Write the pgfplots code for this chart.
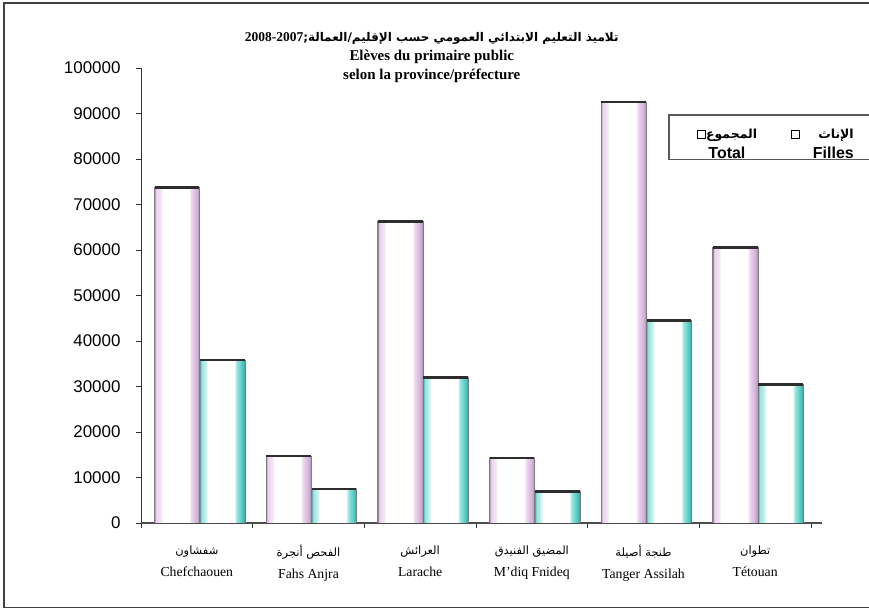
\documentclass[border=0pt]{standalone}
\usepackage{pgfplots}
\pgfplotsset{compat=1.18}
\usepackage{fontspec}
\setmainfont{Liberation Serif}
\newfontfamily\arial{Liberation Sans}
\newfontfamily\arabicfont[Script=Arabic]{DejaVu Sans}
\TeXXeTstate=1
\definecolor{totl}{RGB}{236,212,238}
\definecolor{totd}{RGB}{208,178,216}
\definecolor{fill}{RGB}{150,228,222}
\definecolor{filld}{RGB}{80,200,195}
\definecolor{edge}{RGB}{125,125,125}
\definecolor{cap}{RGB}{45,45,45}
\pgfdeclarehorizontalshading{totsh}{100bp}{color(0bp)=(edge); color(25bp)=(edge); color(25.8bp)=(totd); color(27bp)=(totl); color(32bp)=(totl!60); color(34bp)=(white); color(63bp)=(white); color(66bp)=(totl); color(72bp)=(totd); color(74.2bp)=(totd!85!black); color(75bp)=(edge); color(100bp)=(edge)}
\pgfdeclarehorizontalshading{filsh}{100bp}{color(0bp)=(edge); color(25bp)=(edge); color(25.8bp)=(filld); color(27bp)=(fill); color(32bp)=(fill!50); color(34bp)=(white); color(63bp)=(white); color(66bp)=(fill); color(72bp)=(filld); color(74.2bp)=(filld!85!black); color(75bp)=(edge); color(100bp)=(edge)}
\newcommand\sqbox{{\fboxsep=0pt\fboxrule=0.9bp\fbox{\rule{0pt}{7.5bp}\rule{7.5bp}{0pt}}}}
\pgfplotsset{
  totbar/.style={bar shift=-0.177, draw=edge, line width=0.6bp, shade, shading=totsh},
  filbar/.style={bar shift=0.228, draw=edge, line width=0.6bp, shade, shading=filsh},
}
\begin{document}
\begin{tikzpicture}
\useasboundingbox (0,0) rectangle (869bp,612bp);
\fill[white] (0,0) rectangle (869bp,612bp);
\draw[line width=1.3bp, black!75] (4bp,4.5bp) rectangle (900bp,609bp);
\begin{axis}[
  scale only axis, width=670bp, height=455bp,
  at={(141bp,89bp)}, anchor=south west,
  ymin=0, ymax=100000, xmin=-0.5, xmax=5.5,
  ybar=0pt, bar width=0.405,
  axis x line*=bottom, axis y line*=left,
  x axis line style={line width=1.6bp, black!70, shorten >=-11bp},
  y axis line style={line width=0.9bp, black!80},
  tick align=outside, major tick length=5bp,
  tick style={black!80, line width=0.8bp},
  ytick={0,10000,...,100000},
  scaled y ticks=false,
  yticklabel={\pgfmathprintnumber[fixed,1000 sep={},assume math mode=true]{\tick}},
  yticklabel style={font=\arial\fontsize{17}{18}\selectfont, xshift=-12bp},
  xtick={-0.5,0.5,...,5.5},
  xticklabels={,,,,,,,},
  extra x ticks={0,1,2,3,4,5},
  extra x tick style={major tick length=0pt},
  extra x tick labels={
    {{\arabicfont\fontsize{11.5}{13}\selectfont\beginR شفشاون\endR}\\Chefchaouen},
    {{\arabicfont\fontsize{11.5}{13}\selectfont\beginR الفحص أنجرة\endR}\\Fahs Anjra},
    {{\arabicfont\fontsize{11.5}{13}\selectfont\beginR العرائش\endR}\\Larache},
    {{\arabicfont\fontsize{11.5}{13}\selectfont\beginR المضيق الفنيدق\endR}\\M'diq Fnideq},
    {{\arabicfont\fontsize{11.5}{13}\selectfont\beginR طنجة أصيلة\endR}\\Tanger Assilah},
    {{\arabicfont\fontsize{11.5}{13}\selectfont\beginR تطوان\endR}\\Tétouan}},
  xticklabel style={align=center, font=\fontsize{13.8}{22}\selectfont, yshift=-19bp},
  title={{\arabicfont\bfseries\fontsize{12}{15}\selectfont\beginR تلاميذ التعليم الابتدائي العمومي حسب الإقليم/العمالة;\beginL{\rmfamily\fontsize{13.5}{15}\selectfont 2008-2007}\endL\endR}\\[1bp]Elèves du primaire public\\selon la province/préfecture},
  title style={at={(0.434,1.073)}, anchor=north, align=center, font=\bfseries\fontsize{15}{18.5}\selectfont},
  legend columns=2,
  legend image code/.code={},
  legend style={at={(0.7866,0.8989)}, anchor=north west, draw=black!65, line width=1.6bp,
    inner xsep=26bp, inner ysep=7.5bp, font=\fontsize{16}{20}\selectfont,
    /tikz/every even column/.append style={column sep=30bp},
    cells={align=center}},
  error bars/y dir=plus, error bars/y fixed=0,
  error bars/error mark=|,
  error bars/error mark options={line width=2.6bp, mark size=22.3bp, draw=cap},
]
\addplot[totbar] coordinates {(0,73800)};
\addlegendentry{\begin{tabular}{@{}c@{}}\sqbox{\arabicfont\bfseries\fontsize{12.5}{14}\selectfont\beginR المجموع\endR}\\{\arial\bfseries Total}\end{tabular}}
\addplot[filbar] coordinates {(0,35800)};
\addlegendentry{\begin{tabular}{@{}r@{}}\sqbox\hspace{18bp}{\arabicfont\bfseries\fontsize{12.5}{14}\selectfont\beginR الإناث\endR}\hspace{8bp}\\{\arial\bfseries Filles}\end{tabular}}
\addplot[totbar, forget plot] coordinates {(1,14700)};
\addplot[filbar, forget plot] coordinates {(1,7500)};
\addplot[totbar, forget plot] coordinates {(2,66200)};
\addplot[filbar, forget plot] coordinates {(2,32000)};
\addplot[totbar, forget plot] coordinates {(3,14300)};
\addplot[filbar, forget plot] coordinates {(3,6900)};
\addplot[totbar, forget plot] coordinates {(4,92500)};
\addplot[filbar, forget plot] coordinates {(4,44500)};
\addplot[totbar, forget plot] coordinates {(5,60600)};
\addplot[filbar, forget plot] coordinates {(5,30400)};
\end{axis}
\end{tikzpicture}
\end{document}
